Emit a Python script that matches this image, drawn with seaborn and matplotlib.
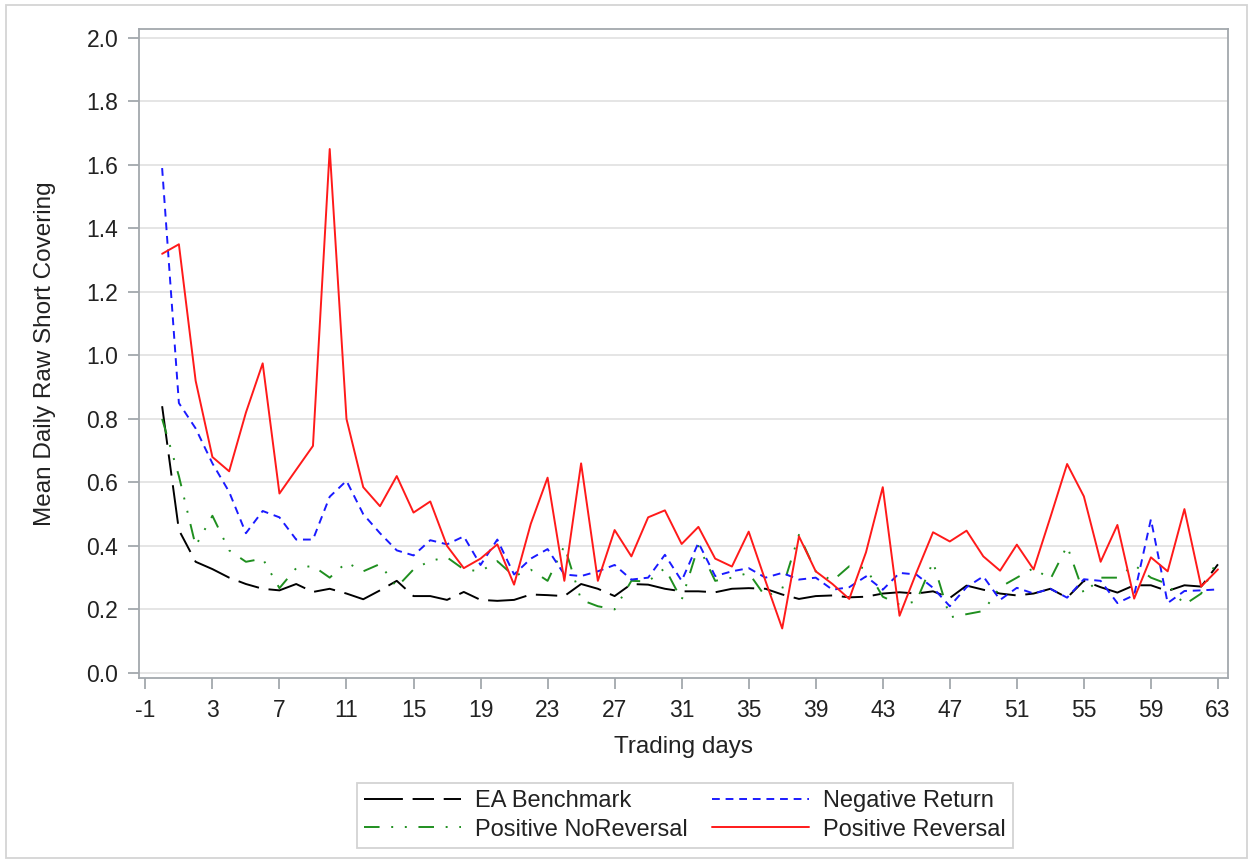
"""Mean daily raw short covering around earnings announcements"""
import numpy as np
import pandas as pd
import matplotlib
matplotlib.use("Agg")
import matplotlib.pyplot as plt
import seaborn as sns
from matplotlib.patches import Rectangle

days = list(range(0, 64))

ea_benchmark = [
    0.84, 0.45, 0.35, 0.327, 0.30, 0.28, 0.265, 0.26, 0.28, 0.255,
    0.265, 0.25, 0.232, 0.26, 0.29, 0.242, 0.242, 0.23, 0.255, 0.23,
    0.227, 0.23, 0.247, 0.245, 0.242, 0.28, 0.265, 0.242, 0.28, 0.278,
    0.265, 0.257, 0.257, 0.254, 0.265, 0.267, 0.265, 0.247, 0.233, 0.242,
    0.244, 0.238, 0.24, 0.25, 0.254, 0.25, 0.257, 0.236, 0.275, 0.262,
    0.25, 0.244, 0.25, 0.265, 0.237, 0.29, 0.27, 0.253, 0.276, 0.276,
    0.258, 0.276, 0.272, 0.342,
]
negative_return = [
    1.59, 0.85, 0.77, 0.66, 0.57, 0.44, 0.51, 0.49, 0.42, 0.42,
    0.555, 0.605, 0.50, 0.44, 0.386, 0.37, 0.418, 0.405, 0.43, 0.34,
    0.42, 0.31, 0.36, 0.39, 0.31, 0.305, 0.32, 0.34, 0.294, 0.30,
    0.372, 0.29, 0.41, 0.305, 0.32, 0.33, 0.30, 0.315, 0.294, 0.30,
    0.262, 0.27, 0.304, 0.262, 0.315, 0.31, 0.268, 0.21, 0.27, 0.304,
    0.23, 0.268, 0.25, 0.265, 0.237, 0.295, 0.29, 0.22, 0.245, 0.484,
    0.22, 0.258, 0.26, 0.263,
]
positive_noreversal = [
    0.80, 0.62, 0.40, 0.495, 0.386, 0.35, 0.36, 0.267, 0.33, 0.337,
    0.30, 0.348, 0.32, 0.343, 0.27, 0.326, 0.353, 0.364, 0.326, 0.32,
    0.352, 0.305, 0.325, 0.29, 0.40, 0.23, 0.21, 0.20, 0.29, 0.288,
    0.33, 0.23, 0.40, 0.29, 0.30, 0.315, 0.24, 0.265, 0.435, 0.32,
    0.29, 0.336, 0.33, 0.24, 0.215, 0.225, 0.35, 0.175, 0.185, 0.195,
    0.27, 0.30, 0.33, 0.295, 0.40, 0.25, 0.30, 0.30, 0.34, 0.30,
    0.28, 0.215, 0.25, 0.36,
]
positive_reversal = [
    1.32, 1.35, 0.92, 0.68, 0.635, 0.82, 0.975, 0.565, 0.64, 0.715,
    1.65, 0.80, 0.585, 0.525, 0.62, 0.505, 0.54, 0.40, 0.33, 0.36,
    0.405, 0.278, 0.47, 0.615, 0.29, 0.66, 0.29, 0.45, 0.367, 0.49,
    0.512, 0.406, 0.46, 0.36, 0.335, 0.445, 0.29, 0.14, 0.43, 0.32,
    0.28, 0.233, 0.38, 0.585, 0.18, 0.315, 0.443, 0.414, 0.448, 0.367,
    0.322, 0.404, 0.326, 0.49, 0.658, 0.556, 0.35, 0.466, 0.234, 0.364,
    0.32, 0.516, 0.272, 0.326,
]

groups = ["EA Benchmark", "Positive NoReversal", "Negative Return", "Positive Reversal"]
series = [ea_benchmark, positive_noreversal, negative_return, positive_reversal]

df = pd.concat(
    [pd.DataFrame({"day": days, "value": v, "group": g}) for g, v in zip(groups, series)],
    ignore_index=True,
)

palette = {
    "EA Benchmark": "#000000",
    "Positive NoReversal": "#1f8f1f",
    "Negative Return": "#1a1aff",
    "Positive Reversal": "#ff1a1a",
}
dashes = {
    "EA Benchmark": (20, 5, 11, 5),
    "Positive NoReversal": (8, 6, 1, 6, 1, 6),
    "Negative Return": (4, 3),
    "Positive Reversal": "",
}

sns.set_style("white")
plt.rcParams["font.family"] = ["Liberation Sans", "DejaVu Sans"]
plt.rcParams["axes.unicode_minus"] = False

fig = plt.figure(figsize=(12.51, 8.61), dpi=100)
ax = fig.add_axes([139 / 1251, 1 - 678 / 861, 1089 / 1251, 649 / 861])

sns.lineplot(
    data=df, x="day", y="value", hue="group", style="group",
    hue_order=groups, style_order=groups,
    palette=palette, dashes=dashes, linewidth=1.4, ax=ax,
)

handles, labels = ax.get_legend_handles_labels()
ax.get_legend().remove()

ax.set_xlim(-1.38, 63.6)
ax.set_ylim(-0.016, 2.028)
ax.set_xticks(np.arange(-1, 64, 4))
ax.set_yticks(np.arange(0, 2.01, 0.2))
ax.set_yticklabels([f"{t:.1f}" for t in np.arange(0, 2.01, 0.2)])
ax.grid(axis="y", color="#e3e3e3", linewidth=1.3)
ax.set_axisbelow(True)

for sp in ax.spines.values():
    sp.set_color("#a3a8ad")
    sp.set_linewidth(1.3)
ax.tick_params(axis="both", direction="out", length=8, width=1.3,
               color="#a3a8ad", labelsize=16.5, labelcolor="#222222", pad=7,
               bottom=True, left=True)

ax.set_xlabel("Trading days", fontsize=17.5, color="#222222")
ax.set_ylabel("Mean Daily Raw Short Covering", fontsize=17.5, color="#222222")
ax.xaxis.set_label_coords(0.5, -0.089)
ax.yaxis.set_label_coords(-0.076, 0.5)

leg = fig.legend(
    handles, labels, loc="upper center", bbox_to_anchor=(685 / 1251, 1 - 783 / 861),
    ncol=2, fontsize=17, frameon=True, fancybox=False, handlelength=4.1,
    handletextpad=0.6, columnspacing=1.0, labelspacing=0.28, borderpad=0.3,
    borderaxespad=0,
)
leg.get_frame().set_edgecolor("#c8c8c8")
leg.get_frame().set_linewidth(1.3)
for t in leg.get_texts():
    t.set_color("#222222")

fig.patches.append(Rectangle((6 / 1251, 3 / 861), 1241 / 1251, 853 / 861,
                             transform=fig.transFigure, fill=False,
                             edgecolor="#d4d4d4", linewidth=1.3))

fig.savefig("out.png", dpi=100)
plt.close()
